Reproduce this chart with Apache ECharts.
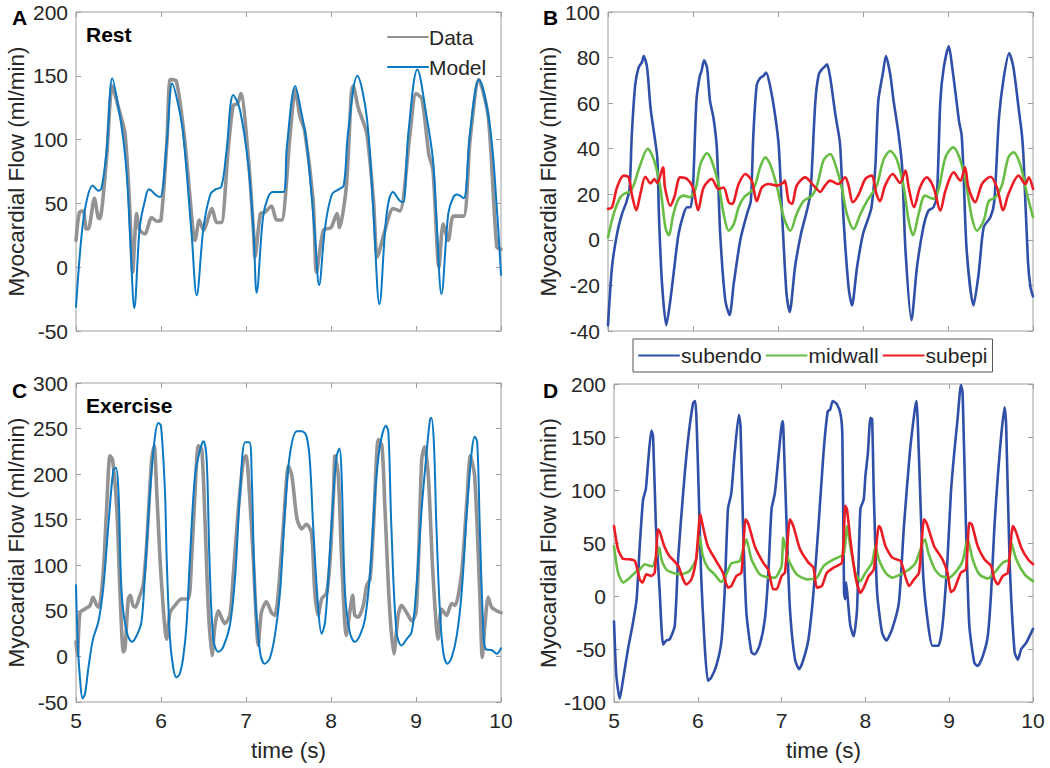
<!DOCTYPE html>
<html><head><meta charset="utf-8">
<script src="https://cdn.jsdelivr.net/npm/echarts@6/dist/echarts.min.js"></script>
<style>html,body{margin:0;padding:0;background:#fff}#c{width:1050px;height:768px}</style>
</head><body><div id="c"></div><script>
// ---------- Data (time s, flow ml/min) ----------
const restData = [[5,21],[5.04,43],[5.086,44],[5.12,30],[5.145,30],[5.216,54],[5.26,39],[5.28,38],[5.36,86],[5.427,142],[5.5,125],[5.576,105],[5.63,50],[5.667,-4],[5.714,42],[5.75,29],[5.81,26],[5.89,39],[5.95,36],[6.0,37],[6.07,99],[6.11,147],[6.18,146],[6.28,99],[6.38,26],[6.4,21],[6.45,37],[6.5,29],[6.6,46],[6.655,35],[6.71,35],[6.79,92],[6.85,127],[6.9,128],[6.94,136],[7.03,84],[7.09,26],[7.106,8],[7.17,42],[7.22,43],[7.3,48],[7.36,37],[7.42,37],[7.52,105],[7.58,139],[7.635,118],[7.69,107],[7.79,52],[7.83,-4],[7.91,29],[8.0,31],[8.07,42],[8.1,31],[8.18,63],[8.24,137],[8.26,142],[8.32,125],[8.42,105],[8.5,52],[8.545,8],[8.635,29],[8.73,46],[8.81,44],[8.93,105],[9.0,136],[9.07,132],[9.15,89],[9.2,76],[9.27,0],[9.32,34],[9.38,21],[9.44,40],[9.56,40],[9.635,99],[9.74,147],[9.85,118],[9.95,16],[10,14]];
const restModel = [[5,-31],[5.067,26],[5.125,52],[5.196,64],[5.263,60],[5.3,62],[5.36,91],[5.427,148],[5.5,125],[5.557,100],[5.6,70],[5.64,20],[5.686,-32],[5.75,31],[5.81,52],[5.86,61],[5.95,56],[5.99,55],[6.07,99],[6.133,144],[6.2,128],[6.26,105],[6.36,26],[6.42,-22],[6.5,31],[6.58,57],[6.64,61],[6.71,63],[6.77,91],[6.85,135],[6.93,123],[7.03,78],[7.09,26],[7.125,-20],[7.2,39],[7.26,55],[7.32,59],[7.44,59],[7.48,94],[7.58,142],[7.64,125],[7.71,99],[7.81,26],[7.86,-14],[7.93,31],[8.01,57],[8.09,61],[8.15,64],[8.2,105],[8.31,150],[8.42,118],[8.5,42],[8.57,-29],[8.655,42],[8.73,59],[8.81,52],[8.85,51],[8.91,105],[9.016,155],[9.125,118],[9.2,84],[9.24,39],[9.3,-21],[9.38,42],[9.44,55],[9.486,57],[9.56,54],[9.635,105],[9.74,147],[9.87,110],[9.95,47],[10,-6]];

const subendoRest = [[5,-37.5],[5.047,-12],[5.106,2.6],[5.165,11.4],[5.22,17],[5.255,23],[5.28,46],[5.32,68],[5.36,75.6],[5.4,78],[5.42,80.7],[5.46,75.6],[5.5,58],[5.545,46],[5.58,36],[5.6,10],[5.635,-19],[5.686,-37.5],[5.733,-26.6],[5.79,-9],[5.83,2.6],[5.89,11.4],[5.93,14.3],[5.97,14.3],[6,23],[6.04,61],[6.08,72],[6.1,74],[6.13,78.8],[6.165,75.6],[6.2,61],[6.24,53.7],[6.28,40.6],[6.32,2.6],[6.38,-26.6],[6.43,-33],[6.48,-19],[6.557,0],[6.635,11.4],[6.68,17],[6.71,46],[6.75,68],[6.79,71],[6.83,72],[6.86,73.4],[6.91,67],[6.97,53.7],[7.01,40.6],[7.05,10],[7.1,-23.6],[7.137,-31.7],[7.2,-12],[7.27,2.6],[7.34,12.8],[7.38,20],[7.4,31.8],[7.44,61],[7.48,72.7],[7.52,75],[7.537,75.6],[7.576,77],[7.615,71],[7.675,55],[7.73,42],[7.77,10],[7.83,-20.7],[7.87,-28.8],[7.93,-12],[8,2.6],[8.067,10],[8.1,14.3],[8.145,32],[8.18,61],[8.235,73.4],[8.27,80.7],[8.32,72.7],[8.36,61],[8.42,46],[8.46,32],[8.5,-4.7],[8.57,-35.3],[8.635,-12],[8.71,5.5],[8.77,12.8],[8.83,14.3],[8.87,20],[8.91,61],[8.95,75.6],[9.01,85],[9.05,75.6],[9.09,64],[9.13,52],[9.16,46],[9.18,32],[9.22,-4.7],[9.3,-28.8],[9.36,-15],[9.42,5.5],[9.5,10],[9.545,17],[9.6,53.7],[9.655,71],[9.72,82],[9.77,75.6],[9.83,58],[9.87,46],[9.89,35],[9.94,-9],[9.97,-20.7],[10,-24.8]];
const midwallRest = [[5,1],[5.067,11.4],[5.145,18.7],[5.2,20.4],[5.255,21],[5.3,23.8],[5.38,33],[5.467,40],[5.537,35.5],[5.615,23],[5.675,5.5],[5.714,2],[5.77,11.4],[5.83,18],[5.89,19.4],[5.96,18.7],[6.03,22.3],[6.086,33],[6.165,38],[6.22,34.7],[6.3,24.5],[6.36,11.4],[6.42,4],[6.48,7],[6.537,14.3],[6.6,18.7],[6.675,21],[6.73,24],[6.79,31.8],[6.85,36.2],[6.91,33],[6.99,23],[7.067,10],[7.145,4],[7.22,11.4],[7.3,17],[7.4,19.4],[7.46,24],[7.537,35],[7.615,37.7],[7.675,33],[7.75,23],[7.81,11.4],[7.89,4.8],[7.97,11.4],[8.047,17],[8.1,20],[8.165,24],[8.24,35],[8.32,39],[8.4,35],[8.48,23],[8.537,8.5],[8.59,2],[8.655,11.4],[8.73,19.4],[8.83,18],[8.89,22.3],[8.97,36.2],[9.06,40.6],[9.145,35],[9.22,23],[9.28,10],[9.34,4],[9.42,8.5],[9.48,17],[9.56,18.7],[9.635,24],[9.71,36.2],[9.77,38.4],[9.85,33],[9.93,20],[10,10]];
const subepiRest = [[5,13.6],[5.047,14.3],[5.106,23],[5.184,28.2],[5.243,27.4],[5.28,20],[5.333,13],[5.38,20],[5.44,27.7],[5.5,24.8],[5.545,26.7],[5.58,25],[5.647,31.8],[5.67,23],[5.733,15],[5.78,18.7],[5.85,27.4],[5.93,26.7],[6,23],[6.06,13],[6.125,23],[6.22,26.7],[6.3,22.3],[6.36,23],[6.42,16.5],[6.46,15.8],[6.537,24.5],[6.616,28.9],[6.69,26],[6.75,17],[6.81,23],[6.89,24.5],[6.99,23.8],[7.06,25],[7.08,26],[7.125,17],[7.165,15.8],[7.22,23.8],[7.32,27.4],[7.42,23.8],[7.5,21],[7.537,23],[7.615,26],[7.71,24.5],[7.79,27.4],[7.83,23.8],[7.88,16.5],[7.95,20],[8.027,26.7],[8.1,28.2],[8.16,20],[8.2,17],[8.26,23.8],[8.35,28.9],[8.435,25],[8.5,30.4],[8.537,23],[8.6,14.3],[8.67,23],[8.75,27.4],[8.83,23],[8.91,12.8],[8.97,21.6],[9.067,29.6],[9.145,26],[9.2,31.8],[9.24,23],[9.32,16.5],[9.4,24.5],[9.5,27.7],[9.576,23],[9.65,13],[9.71,20],[9.83,28.2],[9.91,24.5],[9.95,27.4],[10,22.3]];

const exData = [[5,16],[5.016,1],[5.047,48],[5.106,52],[5.165,56],[5.2,65],[5.243,56],[5.27,54],[5.32,92],[5.36,162],[5.4,220],[5.43,216],[5.48,162],[5.518,70],[5.557,5],[5.576,8],[5.615,63],[5.64,67],[5.67,56],[5.7,54],[5.745,65],[5.79,78],[5.83,121],[5.89,216],[5.92,231],[5.95,180],[6.0,89],[6.067,19],[6.106,48],[6.165,56],[6.24,63],[6.32,63],[6.36,107],[6.4,180],[6.44,231],[6.48,227],[6.52,143],[6.557,52],[6.6,1],[6.635,34],[6.675,50],[6.71,43],[6.75,36],[6.81,45],[6.85,89],[6.91,162],[6.97,216],[7.0,220],[7.04,180],[7.086,107],[7.145,12],[7.18,48],[7.24,60],[7.3,48],[7.34,45],[7.38,70],[7.44,143],[7.5,209],[7.54,198],[7.6,151],[7.655,140],[7.71,145],[7.77,136],[7.81,70],[7.85,45],[7.89,63],[7.95,70],[7.99,107],[8.03,180],[8.047,220],[8.086,198],[8.125,107],[8.18,23],[8.22,48],[8.255,67],[8.28,45],[8.32,43],[8.38,56],[8.42,78],[8.46,85],[8.5,143],[8.557,238],[8.6,231],[8.635,162],[8.69,52],[8.74,3],[8.79,45],[8.83,56],[8.89,48],[8.95,39],[9.0,48],[9.03,107],[9.067,216],[9.1,230],[9.145,198],[9.2,89],[9.26,19],[9.3,52],[9.36,45],[9.42,58],[9.46,56],[9.537,92],[9.6,173],[9.64,220],[9.69,198],[9.75,70],[9.78,-1],[9.81,34],[9.85,65],[9.89,54],[9.95,50],[10,48]];
const exModel = [[5,78],[5.02,16],[5.047,-24],[5.078,-46],[5.106,-41],[5.145,-13],[5.2,19],[5.263,38],[5.32,74],[5.38,143],[5.44,205],[5.47,207],[5.5,180],[5.537,70],[5.596,27],[5.66,16],[5.714,23],[5.77,38],[5.81,89],[5.87,180],[5.93,242],[5.97,256],[6.0,253],[6.047,180],[6.067,107],[6.106,19],[6.145,-13],[6.18,-23],[6.22,-19],[6.26,-2],[6.3,34],[6.34,107],[6.4,198],[6.46,227],[6.5,236],[6.537,216],[6.57,107],[6.616,19],[6.675,5],[6.73,10],[6.81,34],[6.87,85],[6.93,180],[6.99,235],[7.04,235],[7.067,198],[7.106,70],[7.165,5],[7.22,-8],[7.28,-2],[7.34,23],[7.4,70],[7.46,162],[7.52,224],[7.6,247],[7.655,247],[7.71,242],[7.75,216],[7.79,143],[7.85,52],[7.89,25],[7.93,38],[7.97,89],[8.03,180],[8.067,220],[8.1,228],[8.125,198],[8.165,70],[8.22,27],[8.28,16],[8.34,23],[8.4,41],[8.46,92],[8.52,180],[8.576,231],[8.647,253],[8.675,246],[8.71,143],[8.77,27],[8.83,12],[8.89,19],[8.95,27],[9.0,70],[9.067,162],[9.125,224],[9.165,260],[9.18,262],[9.21,235],[9.24,143],[9.28,52],[9.32,5],[9.37,-8],[9.42,-1],[9.48,23],[9.537,70],[9.6,162],[9.655,224],[9.69,241],[9.72,235],[9.75,143],[9.79,34],[9.82,8],[9.89,7],[9.95,3],[10,9]];

const subendoEx = [[5,-24],[5.028,-75],[5.068,-97],[5.108,-79],[5.167,-50],[5.227,-25],[5.27,-3],[5.307,47],[5.347,91],[5.38,101],[5.41,129],[5.446,156],[5.466,151],[5.5,66],[5.546,3],[5.586,-46],[5.625,-42],[5.665,-41],[5.725,-28],[5.765,35],[5.825,97],[5.88,145],[5.944,182],[5.97,184],[6.0,128],[6.04,19],[6.08,-44],[6.12,-80],[6.16,-77],[6.22,-66],[6.28,-44],[6.32,3],[6.36,82],[6.4,97],[6.44,135],[6.49,171],[6.51,160],[6.54,66],[6.58,-16],[6.64,-53],[6.68,-55],[6.74,-46],[6.8,-22],[6.84,19],[6.88,82],[6.92,97],[6.96,129],[7.01,165],[7.02,160],[7.06,66],[7.1,-13],[7.16,-60],[7.21,-69],[7.26,-60],[7.32,-41],[7.38,3],[7.44,66],[7.5,135],[7.55,174],[7.58,176],[7.61,184],[7.66,181],[7.705,171],[7.725,151],[7.745,3],[7.76,-3],[7.77,13],[7.79,-3],[7.82,-28],[7.86,-38],[7.9,-13],[7.94,82],[7.98,91],[8.0,113],[8.03,135],[8.06,168],[8.08,167],[8.1,97],[8.14,3],[8.2,-35],[8.25,-42],[8.32,-31],[8.4,-6],[8.46,66],[8.53,135],[8.59,176],[8.61,184],[8.64,129],[8.69,19],[8.75,-28],[8.8,-47],[8.87,-47],[8.92,-28],[8.98,35],[9.02,97],[9.06,135],[9.1,167],[9.14,199],[9.16,192],[9.2,66],[9.24,-28],[9.3,-63],[9.34,-66],[9.4,-57],[9.46,-38],[9.5,3],[9.54,66],[9.58,113],[9.62,151],[9.66,178],[9.68,160],[9.72,35],[9.78,-53],[9.82,-60],[9.86,-50],[9.92,-44],[10,-31]];
const midwallEx = [[5,47],[5.048,22],[5.11,12.6],[5.167,15.7],[5.25,22],[5.307,25],[5.367,30],[5.41,29],[5.46,28],[5.506,37.7],[5.54,45.6],[5.566,34.6],[5.625,25],[5.7,22],[5.8,20.4],[5.9,23.6],[5.98,34.6],[6.02,56.6],[6.06,37.7],[6.12,26.7],[6.2,20.4],[6.28,13.2],[6.34,20.4],[6.4,30.8],[6.5,33],[6.58,53.5],[6.64,34.6],[6.74,20.4],[6.86,17.3],[6.92,17.3],[7,28.3],[7.02,55],[7.08,34.6],[7.18,20.4],[7.3,15.7],[7.42,17.3],[7.5,28.3],[7.62,34.6],[7.74,39.3],[7.78,66],[7.82,47],[7.88,22],[7.94,14],[8,22],[8.08,31.5],[8.12,47],[8.16,34.6],[8.24,22],[8.32,17.3],[8.42,20.4],[8.52,25],[8.6,31.5],[8.71,53.5],[8.75,40.9],[8.83,25],[8.9,18.9],[9,17.3],[9.1,25],[9.16,33],[9.22,53.5],[9.28,34.6],[9.36,20.4],[9.46,16.4],[9.54,22],[9.64,31.5],[9.72,34.6],[9.74,50.4],[9.8,34.6],[9.9,20.4],[10,14]];
const subepiEx = [[5,66],[5.048,44],[5.11,35],[5.187,34.6],[5.25,33],[5.307,15.7],[5.34,12.6],[5.386,20.4],[5.446,18.9],[5.486,22],[5.526,63],[5.55,59.8],[5.6,47],[5.66,37.7],[5.72,33],[5.77,28],[5.825,15.7],[5.864,11],[5.924,15.7],[5.98,34.6],[6.03,77],[6.06,66],[6.12,47],[6.22,33],[6.3,22],[6.36,7.9],[6.4,9.4],[6.46,18.9],[6.52,22],[6.57,72.3],[6.6,69],[6.68,47],[6.78,31.5],[6.84,25],[6.9,6.3],[6.94,6.3],[7,18.9],[7.04,22],[7.1,72.3],[7.14,66],[7.22,44],[7.32,31.5],[7.38,26.7],[7.42,7.9],[7.48,9.4],[7.54,22],[7.62,26.7],[7.72,31.5],[7.76,85],[7.78,81.8],[7.82,53.5],[7.88,18.9],[7.94,3],[7.98,7.9],[8.04,18.9],[8.1,25],[8.16,66],[8.18,64.5],[8.24,47],[8.32,36.2],[8.42,33],[8.48,17.3],[8.52,9.4],[8.58,15.7],[8.64,22],[8.7,72.3],[8.73,69],[8.82,47],[8.92,34.6],[8.98,22],[9.02,3.8],[9.06,6.3],[9.14,22],[9.2,25],[9.24,69],[9.27,67.6],[9.34,47],[9.42,34.6],[9.5,28.3],[9.54,15.7],[9.58,11],[9.64,18.9],[9.7,22],[9.76,66],[9.8,59.8],[9.86,45.6],[9.94,34.6],[10,30]];

// ---------- Axes settings ----------
const xRange = [5, 10, 1];
const yRanges = [[-50, 200, 50], [-40, 100, 20], [-50, 300, 50], [-100, 200, 50]];
const yName = 'Myocardial Flow (ml/min)';
const xName = 'time (s)';
const panelLetters = ['A', 'B', 'C', 'D'];
const panelTitles = ['Rest', '', 'Exercise', ''];

// ---------- Layout / styles ----------
const FONT = '"Liberation Sans", Arial, Helvetica, sans-serif';
const TXT = '#262626';
const BOX = '#9e9e9e';
const grids = [
  {left: 76, top: 12, width: 425, height: 319},
  {left: 608, top: 12, width: 425, height: 319},
  {left: 76, top: 383, width: 425, height: 319},
  {left: 614, top: 384, width: 419, height: 318}
];
const C_DATA = '#939393', C_MODEL = '#0a78c2';
const C_ENDO = '#2f4fa8', C_MID = '#68bd45', C_EPI = '#ec1c24';

const xAxis = [], yAxis = [];
for (let i = 0; i < 4; i++) {
  const bottom = i >= 2;
  xAxis.push({
    type: 'value', gridIndex: i, position: 'bottom', min: xRange[0], max: xRange[1], interval: xRange[2],
    axisLine: {show: false, onZero: false}, splitLine: {show: false},
    axisTick: {inside: true, length: 5, lineStyle: {color: BOX}},
    axisLabel: {show: bottom, fontSize: 21, color: TXT, fontFamily: FONT, margin: 8, showMinLabel: true, showMaxLabel: true},
    name: bottom ? xName : '', nameLocation: 'middle', nameGap: 37,
    nameTextStyle: {fontSize: 22.5, color: TXT, fontFamily: FONT}
  });
  yAxis.push({
    type: 'value', gridIndex: i, position: 'left', min: yRanges[i][0], max: yRanges[i][1], interval: yRanges[i][2],
    axisLine: {show: false, onZero: false}, splitLine: {show: false},
    axisTick: {inside: true, length: 5, lineStyle: {color: BOX}},
    axisLabel: {fontSize: 21, color: TXT, fontFamily: FONT, margin: 8, showMinLabel: true, showMaxLabel: true},
    name: yName, nameLocation: 'middle', nameGap: 48, nameRotate: 90,
    nameTextStyle: {fontSize: 22.5, color: TXT, fontFamily: FONT}
  });
}
for (let i = 0; i < 4; i++) {
  xAxis.push({
    type: 'value', gridIndex: i, position: 'top', min: xRange[0], max: xRange[1], interval: xRange[2],
    axisLine: {show: false, onZero: false}, splitLine: {show: false}, axisLabel: {show: false},
    axisTick: {inside: true, length: 5, lineStyle: {color: BOX}}
  });
  yAxis.push({
    type: 'value', gridIndex: i, position: 'right', min: yRanges[i][0], max: yRanges[i][1], interval: yRanges[i][2],
    axisLine: {show: false, onZero: false}, splitLine: {show: false}, axisLabel: {show: false},
    axisTick: {inside: true, length: 5, lineStyle: {color: BOX}}
  });
}

function line(name, data, gi, color, width, smooth) {
  return {
    name: name, type: 'line', data: data, xAxisIndex: gi, yAxisIndex: gi,
    showSymbol: false, symbol: 'none', smooth: smooth, clip: true,
    lineStyle: {color: color, width: width, cap: 'round', join: 'round'}, itemStyle: {color: color},
    emphasis: {disabled: true}, silent: true
  };
}

const series = [
  line('Data', restData, 0, C_DATA, 3.6, 0.25),
  line('Model', restModel, 0, C_MODEL, 2, 0.35),
  line('subendo', subendoRest, 1, C_ENDO, 2.6, 0.25),
  line('midwall', midwallRest, 1, C_MID, 2.6, 0.3),
  line('subepi', subepiRest, 1, C_EPI, 2.6, 0.3),
  line('Data', exData, 2, C_DATA, 3.6, 0.25),
  line('Model', exModel, 2, C_MODEL, 2, 0.35),
  line('subendo', subendoEx, 3, C_ENDO, 2.6, 0.2),
  line('midwall', midwallEx, 3, C_MID, 2.6, 0.2),
  line('subepi', subepiEx, 3, C_EPI, 2.6, 0.2)
];

const letterPos = [[12, 7], [543, 7], [12, 380], [543, 380]];
const titlePos = [[86, 24], null, [86, 395], null];
const graphic = [];
for (let i = 0; i < 4; i++) {
  graphic.push({type: 'text', left: letterPos[i][0], top: letterPos[i][1], silent: true,
    style: {text: panelLetters[i], font: 'bold 21px ' + FONT, fill: '#000'}});
  if (panelTitles[i]) graphic.push({type: 'text', left: titlePos[i][0], top: titlePos[i][1], silent: true,
    style: {text: panelTitles[i], font: 'bold 21px ' + FONT, fill: '#000'}});
}

const option = {
  animation: false,
  backgroundColor: '#fff',
  grid: grids.map(g => Object.assign({show: true, borderColor: BOX, borderWidth: 1, backgroundColor: 'transparent', containLabel: false}, g)),
  xAxis: xAxis,
  yAxis: yAxis,
  legend: [
    {data: ['Data', 'Model'], orient: 'vertical', left: 387, top: 26.5, padding: 0, itemGap: 9,
     itemWidth: 40, itemHeight: 14, selectedMode: false, itemStyle: {opacity: 0},
     textStyle: {fontSize: 21, color: TXT, fontFamily: FONT, padding: [0, 0, 0, -4]}},
    {data: ['subendo', 'midwall', 'subepi'], orient: 'horizontal', left: 633, top: 339, padding: [6, 5],
     itemGap: 4, itemWidth: 40, itemHeight: 14, selectedMode: false, borderColor: '#555', borderWidth: 1,
     itemStyle: {opacity: 0},
     textStyle: {fontSize: 21, color: TXT, fontFamily: FONT, padding: [0, 0, 0, -3]}}
  ],
  graphic: graphic,
  series: series
};

const chart = echarts.init(document.getElementById('c'), null, {renderer: 'svg', width: 1050, height: 768});
chart.setOption(option);
</script></body></html>
